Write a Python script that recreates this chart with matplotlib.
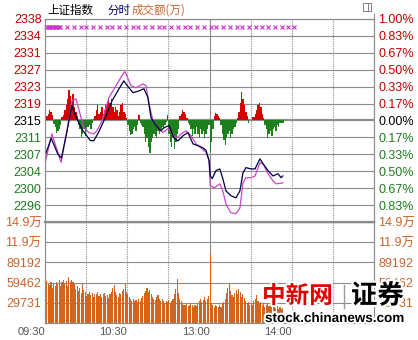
import numpy as np
import matplotlib
matplotlib.use('Agg')
import matplotlib.pyplot as plt
import matplotlib.patheffects as pe
from matplotlib.transforms import blended_transform_factory
from matplotlib.patches import Rectangle
from matplotlib.lines import Line2D

plt.rcParams['font.family'] = ['Liberation Sans', 'Noto Sans CJK SC']

# 昨收
prev_close = 2315.65

# 上证指数 分时 (分钟, 点位)  0 = 09:30, 120 = 13:00
index_t = [0, 4.5, 9.5, 12, 16, 19.5, 22.5, 27, 33, 35.5,
           39, 44, 49, 54, 57.5, 59, 61.3, 64.2, 68.6, 72.2,
           75.1, 77.3, 81, 84.6, 86.8, 90.5, 94, 97, 100.7, 104.3,
           108, 111.6, 115.3, 117.5, 119.7, 120.5, 122, 124.7, 127.5, 129.7,
           132, 135.6, 139.3, 142.2, 144.4, 146.6, 150.2, 153.2, 156.8, 159,
           162.7, 166.3, 170, 172.2, 173.5]
index_v = [2307.6, 2311.6, 2307.9, 2307.1, 2313.1, 2319.1, 2316.6, 2313.6, 2311.1, 2311.0,
           2312.9, 2316.3, 2320.2, 2322.9, 2324.7, 2324.0, 2323.1, 2322.0, 2322.4, 2322.9,
           2320.9, 2316.3, 2314.5, 2313.3, 2314.0, 2314.5, 2311.7, 2311.0, 2312.2, 2312.9,
           2310.3, 2309.9, 2309.4, 2308.8, 2306.5, 2303.0, 2302.4, 2304.2, 2304.6, 2302.4,
           2299.6, 2298.5, 2298.0, 2299.6, 2303.7, 2304.9, 2304.6, 2304.6, 2306.9, 2305.8,
           2304.2, 2303.0, 2303.5, 2302.6, 2303.0]

# 不含加权指数
avg_t = [0, 5, 11.7, 16, 19.7, 22.6, 26.3, 28.5, 32, 35.7,
         37.9, 41.6, 46.7, 51.8, 57.6, 58.3, 59.1, 62.7, 66.4, 71.5,
         73.7, 75.8, 78.8, 82.4, 86, 89.7, 93.4, 95.6, 99.3, 102.9,
         106.6, 110.2, 113.9, 117.5, 119.7, 120.5, 123.5, 127.5, 129.7, 132,
         135.6, 139.3, 142.2, 144.4, 146.6, 150.2, 153.2, 156.8, 159, 162.7,
         166.3, 168.5, 173.5]
avg_v = [2305.8, 2312.6, 2306.1, 2313.3, 2320.2, 2320.6, 2316.3, 2314.0, 2312.9, 2312.6,
         2313.3, 2315.6, 2320.9, 2323.6, 2326.6, 2326.8, 2326.3, 2323.6, 2323.1, 2324.0,
         2323.6, 2319.5, 2315.6, 2314.0, 2312.9, 2313.8, 2312.6, 2311.5, 2312.6, 2313.3,
         2312.2, 2310.3, 2309.4, 2308.3, 2306.5, 2300.8, 2300.3, 2301.2, 2299.6, 2296.6,
         2294.6, 2294.4, 2295.7, 2301.4, 2302.6, 2302.6, 2303.0, 2306.0, 2305.8, 2303.5,
         2301.9, 2301.2, 2301.4]

# 红绿柱 (每分钟, 相对昨收)
strength = [0.5, 1.0, 1.5, 2.3, 2.0, 1.2, -0.8, -1.5, -2.8, -2.5,
            -2.0, -1.0, 0.8, 1.2, 2.5, 3.5, 5.0, 7.0, 5.5, 4.0,
            6.0, 3.0, 2.0, 1.0, -1.0, -2.0, -3.7, -3.0, -2.0, -3.5,
            -2.5, -1.5, -1.0, -2.0, -0.5, 0.3, 1.0, 2.5, 3.5, 1.5,
            2.0, 3.0, 1.5, 2.5, 3.5, 4.0, 4.6, 4.0, 5.0, 3.0,
            2.0, 3.0, 2.5, 1.0, 2.0, 3.5, 4.0, 2.0, 1.5, 0.5,
            -1.0, -2.5, -3.4, -3.0, -2.0, -1.5, -2.5, -1.0, 1.2, -0.5,
            -1.0, -1.5, -3.0, -5.0, -4.0, -6.0, -7.5, -5.0, -4.0, -3.0,
            -3.5, -4.0, -2.5, -3.0, -2.0, -1.5, -2.0, -1.0, -0.3, 1.2,
            -3.0, -5.0, -6.0, -4.0, -6.5, -5.0, -3.0, -2.0, 1.0, 1.5,
            2.3, 2.0, 1.5, 0.5, -0.5, -1.0, -2.0, -3.5, -2.0, -3.0,
            -1.5, -3.0, -4.0, -2.0, -3.0, -2.5, -4.0, -3.0, -2.0, -1.0,
            -7.3, -5.0, -2.0, 1.0, 1.8, 1.5, 1.0, 0.5, -1.0, -3.0,
            -4.5, -5.7, -4.0, -3.0, -2.5, -4.0, -3.0, -2.0, -1.5, -0.5,
            0.5, 2.0, 4.0, 6.4, 5.0, 3.5, 2.0, 1.0, -0.5, 0.0,
            0.0, 0.8, 0.8, 1.5, 2.5, 3.5, 4.1, 3.0, 1.5, 0.5,
            -1.0, -2.0, -3.9, -3.0, -2.5, -3.5, -2.0, -1.5, -2.5, -1.0,
            -1.5, -0.5, -0.5, -0.5]

# 成交额 (每分钟)
volume = [135900, 62000, 58000, 56000, 60000, 52000, 57000, 55000, 61000, 59000,
          63000, 54000, 60000, 64000, 58000, 62000, 55000, 68000, 60000, 63000,
          61000, 57000, 50000, 54000, 47000, 52000, 44000, 58000, 48000, 45000,
          40000, 43000, 46000, 41000, 44000, 39000, 43000, 42000, 45000, 40000,
          43000, 38000, 42000, 44000, 40000, 41000, 37000, 43000, 46000, 52000,
          56000, 45000, 41000, 39000, 44000, 42000, 47000, 50000, 59000, 46000,
          43000, 38000, 35000, 33000, 36000, 32000, 34000, 31000, 35000, 33000,
          37000, 40000, 44000, 47000, 51000, 45000, 48000, 42000, 39000, 36000,
          34000, 38000, 41000, 36000, 33000, 35000, 32000, 30000, 33000, 31000,
          34000, 30000, 33000, 36000, 42000, 50000, 65000, 44000, 36000, 32000,
          30000, 27000, 26000, 28000, 25000, 27000, 30000, 26000, 24000, 27000,
          25000, 29000, 33000, 35000, 31000, 34000, 38000, 32000, 36000, 40000,
          103000, 30000, 26000, 24000, 27000, 25000, 23000, 26000, 24000, 28000,
          31000, 36000, 44000, 52000, 57000, 47000, 41000, 38000, 44000, 48000,
          42000, 50000, 45000, 39000, 43000, 37000, 33000, 29000, 31000, 27000,
          30000, 26000, 32000, 36000, 41000, 33000, 28000, 31000, 26000, 29000,
          24000, 27000, 30000, 25000, 28000, 23000, 26000, 29000, 22000, 25000,
          21000, 23000, 20000, 22000]

# 顶部标记
mark_t = [1, 2, 3, 4, 5, 6, 7, 8, 9, 10, 11,
          16, 21, 26, 30, 35, 40, 45, 49, 54, 59, 64, 68, 73, 78, 83, 87,
          92, 97, 102, 106, 111, 116, 121, 125, 130, 135, 140, 144, 149,
          154, 158, 163, 168, 173, 177, 182]

price_left = ['', '2296', '2300', '2304', '2307', '2311', '2315',
              '2319', '2323', '2327', '2331', '2334', '2338']
price_right = ['', '0.83%', '0.67%', '0.50%', '0.33%', '0.17%', '0.00%',
               '0.17%', '0.33%', '0.50%', '0.67%', '0.83%', '1.00%']
vol_ticks = [29731, 59462, 89192, 118923, 148655]
vol_labels = ['29731', '59462', '89192', '11.9万', '14.9万']
time_ticks = [0, 60, 120, 180]
time_labels = ['09:30', '10:30', '13:00', '14:00']

RED = '#C00000'
GREEN = '#1E7B1E'
ORANGE = '#C8642A'
GRID = '#8C8C8C'

fig = plt.figure(figsize=(4.18, 3.4), dpi=100)
L, W = 45 / 418, 329 / 418
ax = fig.add_axes([L, 118 / 340, W, 203 / 340])
axv = fig.add_axes([L, 17 / 340, W, 101 / 340])

# ---- 价格 ----
lo, hi = prev_close * 0.99, prev_close * 1.01
price_ticks = [prev_close * (1 + k / 600) for k in range(-6, 7)]
ax.set_xlim(0, 240)
ax.set_ylim(lo, hi)
for k, t in enumerate(price_ticks):
    ax.axhline(t, color=GRID, lw=1.6 if k == 6 else 0.8, zorder=1)
for m in [30, 60, 90, 150, 180, 210]:
    ax.axvline(m, color=GRID, lw=0.8, ls=(0, (1, 1)), zorder=1)
    axv.axvline(m, color=GRID, lw=0.8, ls=(0, (1, 1)), zorder=1)
ax.axvline(120, color=GRID, lw=0.8, zorder=1)
axv.axvline(120, color=GRID, lw=0.8, zorder=1)

minutes = np.arange(len(strength))
bar_col = ['#D40000' if v > 0 else '#1F7F1F' for v in strength]
ax.bar(minutes, strength, bottom=prev_close, width=1.0, align='edge',
       color=bar_col, lw=0, zorder=2)
ax.plot(avg_t, avg_v, color='#CC44CC', lw=0.9, zorder=3)
ax.plot(index_t, index_v, color='#000040', lw=0.9, zorder=4)

tr = blended_transform_factory(ax.transData, ax.transAxes)
ax.plot(mark_t, [0.96] * len(mark_t), transform=tr, ls='none', marker='x',
        ms=3.2, mew=0.8, color='#CC33CC', clip_on=False, zorder=5)

ax.set_xticks([])
ax.set_yticks(price_ticks)
ax.set_yticklabels(price_left)
ax.tick_params(axis='y', length=0, pad=2.5, labelsize=9)
axr = ax.twinx()
axr.set_ylim(lo, hi)
axr.set_yticks(price_ticks)
axr.set_yticklabels(price_right)
axr.tick_params(axis='y', length=0, pad=3, labelsize=9)
for k, (a, b) in enumerate(zip(ax.get_yticklabels(), axr.get_yticklabels())):
    c = GREEN if k < 6 else ('black' if k == 6 else RED)
    a.set_color(c)
    b.set_color(c)

# ---- 成交额 ----
axv.set_xlim(0, 240)
axv.set_ylim(0, 148655)
for k, t in enumerate(vol_ticks):
    axv.axhline(t, color=GRID, lw=1.6 if k == len(vol_ticks) - 1 else 0.8, zorder=1)
axv.bar(np.arange(len(volume)), volume, width=0.8, align='edge',
        color='#D2641E', lw=0, zorder=2)
axv.set_yticks(vol_ticks)
axv.set_yticklabels(vol_labels)
axv.tick_params(axis='y', length=0, pad=2.5, labelsize=9, labelcolor=ORANGE)
axvr = axv.twinx()
axvr.set_ylim(0, 148655)
axvr.set_yticks(vol_ticks)
axvr.set_yticklabels(vol_labels)
axvr.tick_params(axis='y', length=0, pad=3, labelsize=9, labelcolor=ORANGE)
axv.set_xticks(time_ticks)
axv.set_xticklabels(time_labels)
axv.tick_params(axis='x', length=0, pad=3, labelsize=8, labelcolor='#555555')
for lbl in axv.get_xticklabels():
    lbl.set_ha('right')

for a in [ax, axr, axv, axvr]:
    for s in a.spines.values():
        s.set_color(GRID)
        s.set_linewidth(0.8)
    a.set_facecolor('none')
ax.spines['bottom'].set_visible(False)
axv.spines['top'].set_linewidth(1.6)

# ---- 标题 ----
fig.text(47 / 418, 1 - 10 / 340, '上证指数', fontsize=8.3, va='center', color='black',
         family='Noto Sans CJK SC')
fig.text(107 / 418, 1 - 10 / 340, '分时', fontsize=8.3, va='center', color='#000070',
         family='Noto Sans CJK SC')
fig.text(132 / 418, 1 - 10 / 340, '成交额(万)', fontsize=8.3, va='center', color=ORANGE,
         family='Noto Sans CJK SC')
fig.patches.append(Rectangle((363 / 418, 1 - 11 / 340), 8 / 418, 8 / 340, fill=False,
                             ec='#808080', lw=0.7, transform=fig.transFigure))
fig.lines.append(Line2D([368 / 418, 368 / 418], [1 - 11 / 340, 1 - 3 / 340],
                        color='#808080', lw=0.7, transform=fig.transFigure))
fig.lines.append(Line2D([374 / 418, 374 / 418], [1 - 19 / 340, 1 - 14 / 340],
                        color=GRID, lw=0.8, transform=fig.transFigure))

# ---- 水印 ----
halo = [pe.withStroke(linewidth=3, foreground='white')]
fig.text(262 / 418, 1 - 296 / 340, '中新网', fontsize=17, fontweight='bold', color='#E00000',
         va='center', family='Noto Sans CJK SC', path_effects=halo, zorder=10)
fig.lines.append(Line2D([344 / 418, 344 / 418], [1 - 308 / 340, 1 - 285 / 340],
                        color='#999999', lw=1, transform=fig.transFigure, zorder=10))
fig.text(351 / 418, 1 - 296 / 340, '证券', fontsize=19, fontweight='bold', color='black',
         va='center', family='Noto Sans CJK SC', path_effects=halo, zorder=10)
fig.text(265 / 418, 1 - 319 / 340, 'stock.chinanews.com', fontsize=9.7, fontweight='bold',
         color='black', va='center', family='Liberation Sans', path_effects=halo, zorder=10)

fig.savefig('out.png', dpi=100, facecolor='white')
